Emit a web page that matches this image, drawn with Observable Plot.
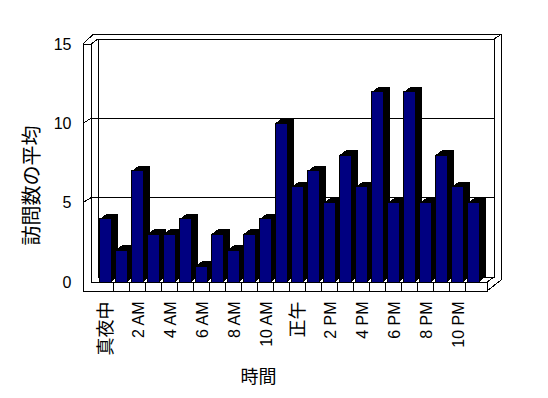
<!DOCTYPE html>
<html><head><meta charset="utf-8">
<script src="https://cdn.jsdelivr.net/npm/d3@7"></script>
<script src="https://cdn.jsdelivr.net/npm/@observablehq/plot@0.6"></script>
<style>
body{margin:0;background:#fff}
svg{display:block;shape-rendering:crispEdges}
</style>
</head><body><div id="chart"></div>
<script>
// ---- data ----
const hours = ["0","1","2","3","4","5","6","7","8","9","10","11","12","13","14","15","16","17","18","19","20","21","22","23"];
const visits = [4,2,7,3,3,4,1,3,2,3,4,10,6,7,5,8,6,12,5,12,5,8,6,5];
const tickHours = ["0","2","4","6","8","10","12","14","16","18","20","22"];
const tickLabels = ["真夜中","2 AM","4 AM","6 AM","8 AM","10 AM","正午","2 PM","4 PM","6 PM","8 PM","10 PM"];
const yTicks = [0,5,10,15];
const gridValues = [5,10,15];
const yTitle = "訪問数の平均";
const xTitle = "時間";

const data = hours.map((h, i) => ({hour: h, value: visits[i]}));
const ticks = tickHours.map((h, i) => ({hour: h, label: tickLabels[i], cjk: /[^\x00-\x7F]/.test(tickLabels[i])}));

const LATIN = "'Liberation Sans', Arial, sans-serif";
const CJK = "'Noto Sans CJK JP', sans-serif";
const PI = 0.23, PO = 0.115;
const DX = 7, DY = -5;           // depth offset of the 3D box
const extrude = [[1,-1],[2,-1],[3,-2],[4,-3],[5,-4],[6,-4],[7,-5]];

function frame3d(index, scales, values, dim) {
  const {x, y} = scales;
  const L = dim.marginLeft, R = dim.width - dim.marginRight;
  const Y0 = y(0), Yt = y(15);
  const step = x(hours[1]) - x(hours[0]);
  const oL = L - 8, oB = Y0 + 9;            // outer slab edges
  const g = d3.create("svg:g").attr("fill", "none").attr("stroke", "black").attr("stroke-width", 1);
  const p = d => g.append("path").attr("d", d);
  // back wall
  p(`M${L+DX},${Yt+DY}H${R+DX}V${Y0+DY}H${L+DX}Z`);
  // outer back edges
  p(`M${oL},${Yt}L${L+2},${Yt-9.5}H${R+14}V${Y0-2}L${R},${oB}`);
  p(`M${R+DX},${Yt+DY}L${R+14},${Yt-9.5}`);
  p(`M${L},${Yt}L${L+DX},${Yt+DY}`);
  // gridlines (with diagonal on the left wall)
  for (const v of gridValues.slice(0, -1)) {
    p(`M${oL},${y(v)}L${L},${y(v)+DY}H${R+DX}`);
  }
  // left wall front slab + floor slab
  p(`M${L},${Yt}H${oL}V${oB}H${R}V${Y0}`);
  p(`M${L},${Yt}V${Y0}H${R}L${R+DX},${Y0+DY}`);
  // category dividers on floor front
  for (let i = 1; i < hours.length; i++) {
    const bx = x(hours[i]) - step * PO;
    p(`M${bx},${Y0}V${oB}`);
  }
  return g.node();
}

const chart = Plot.plot({
  width: 548,
  height: 398,
  marginLeft: 91,
  marginRight: 61,
  marginTop: 44,
  marginBottom: 116,
  style: {fontFamily: LATIN, fontSize: "16px", background: "#fff", color: "#000"},
  x: {domain: hours, paddingInner: PI, paddingOuter: PO, axis: null},
  y: {domain: [0, 15], axis: null},
  marks: [
    frame3d,
    ...extrude.map(([dx, dy]) => Plot.barY(data, {x: "hour", y: "value", fill: "#000", dx, dy})),
    Plot.barY(data, {x: "hour", y: "value", fill: "#000080", stroke: "#000", strokeWidth: 1}),
    Plot.text(yTicks, {y: d => d, text: d => String(d), frameAnchor: "left", dx: -20, textAnchor: "end", lineAnchor: "middle", fontSize: 16, fontFamily: LATIN}),
    Plot.text(ticks.filter(d => !d.cjk), {x: "hour", text: "label", frameAnchor: "bottom", rotate: -90, textAnchor: "end", lineAnchor: "middle", dy: 19, dx: 1, fontSize: 16, fontFamily: LATIN}),
    Plot.text(ticks.filter(d => d.cjk), {x: "hour", text: "label", frameAnchor: "bottom", rotate: -90, textAnchor: "end", lineAnchor: "middle", dy: 19, dx: 1, fontSize: 18, fontFamily: CJK}),
    Plot.text([yTitle], {frameAnchor: "left", rotate: -90, textAnchor: "middle", lineAnchor: "middle", dx: -59, dy: 22, fontSize: 20, fontFamily: CJK}),
    Plot.text([xTitle], {frameAnchor: "bottom", textAnchor: "middle", lineAnchor: "middle", dx: -31, dy: 95, fontSize: 18, fontFamily: CJK})
  ]
});
document.getElementById("chart").append(chart);
</script>
</body></html>
